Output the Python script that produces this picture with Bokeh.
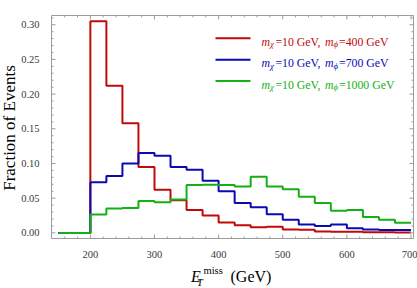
import math
from bokeh.plotting import figure
from bokeh.layouts import column, row
from bokeh.models import Range1d, FixedTicker, Label, BoxAnnotation, NumeralTickFormatter
from bokeh.embed import file_html
from bokeh.resources import INLINE

# ---- data (25 GeV bins, left edges 150 ... 675, last edge 700) ----
bin_edges = [150, 175, 200, 225, 250, 275, 300, 325, 350, 375, 400, 425,
             450, 475, 500, 525, 550, 575, 600, 625, 650, 675, 700]
frac_400 = [0.0, 0.0, 0.305, 0.212, 0.158, 0.095, 0.062, 0.047, 0.033, 0.025, 0.015,
            0.011, 0.008, 0.009, 0.005, 0.0045, 0.002, 0.0017, 0.0017, 0.001, 0.001, 0.0005]
frac_700 = [0.0, 0.0, 0.073, 0.082, 0.100, 0.115, 0.111, 0.095, 0.091, 0.075, 0.060,
            0.043, 0.037, 0.027, 0.019, 0.012, 0.010, 0.012, 0.0066, 0.005, 0.0043, 0.004]
frac_1000 = [0.0, 0.0, 0.0266, 0.035, 0.036, 0.046, 0.044, 0.048, 0.069, 0.0695, 0.069,
             0.067, 0.081, 0.067, 0.063, 0.052, 0.043, 0.032, 0.033, 0.023, 0.019, 0.0147]
mediator_masses = ["400", "700", "1000"]
dm_mass = "10"
series = [frac_400, frac_700, frac_1000]
colors = ["#BE0A0A", "#0A0AB4", "#14B014"]
x_major = [200, 300, 400, 500, 600, 700]
x_minor = [v for v in range(160, 701, 20) if v not in x_major]
y_major = [0.0, 0.05, 0.10, 0.15, 0.20, 0.25, 0.30]
y_minor = [round(0.01 * i, 2) for i in range(0, 32) if i % 5 != 0]

SERIF = "Liberation Serif"
TICK_FONT = "serif"
AX_COL = "#9c9c9c"
LAB_COL = "#3a3a3a"

W, H1, H2 = 417, 260, 28
YS = 18                                        # width of the y-title strip
FL, FR, FT, FB = 49, 413, 15, 240              # frame edges (page px)
XR = (139.4, 703.9)
YR = (-0.0081, 0.3133)

p = figure(width=W - YS, height=H1, output_backend="svg", toolbar_location=None,
           x_range=Range1d(*XR), y_range=Range1d(*YR),
           min_border_left=FL - YS, min_border_right=W - FR, min_border_top=FT,
           min_border_bottom=H1 - FB)
p.grid.visible = False
p.outline_line_color = AX_COL
p.outline_line_width = 1

for vals, col in zip(series, colors):
    p.step(x=bin_edges, y=vals + [vals[-1]], mode="after", line_width=2, line_color=col)

# inward frame ticks, drawn through the data scales
dx = (XR[1] - XR[0]) / (FR - FL)
dy = (YR[1] - YR[0]) / (FB - FT)
for ticks, L in ((x_major, 4), (x_minor, 2)):
    p.segment(x0=ticks, x1=ticks, y0=[YR[0]] * len(ticks), y1=[YR[0] + L * dy] * len(ticks),
              line_color=AX_COL, line_width=1)
    p.segment(x0=ticks, x1=ticks, y0=[YR[1]] * len(ticks), y1=[YR[1] - L * dy] * len(ticks),
              line_color=AX_COL, line_width=1)
for ticks, L in ((y_major, 4), (y_minor, 2)):
    p.segment(y0=ticks, y1=ticks, x0=[XR[0]] * len(ticks), x1=[XR[0] + L * dx] * len(ticks),
              line_color=AX_COL, line_width=1)
    p.segment(y0=ticks, y1=ticks, x0=[XR[1]] * len(ticks), x1=[XR[1] - L * dx] * len(ticks),
              line_color=AX_COL, line_width=1)

for ax in (p.xaxis[0], p.yaxis[0]):
    ax.axis_line_color = None
    ax.major_tick_line_color = None
    ax.minor_tick_line_color = None
    ax.major_label_text_font = TICK_FONT
    ax.major_label_text_font_style = "normal"
    ax.major_label_text_color = LAB_COL
    ax.major_label_text_font_size = "10.5px"
    ax.major_label_standoff = 6
p.xaxis[0].ticker = FixedTicker(ticks=x_major)
p.yaxis[0].ticker = FixedTicker(ticks=y_major)
p.yaxis[0].formatter = NumeralTickFormatter(format="0.00")

def lab(fig, sx, sy, text, size, color="black", italic=False, angle=0.0,
        align="left", baseline="alphabetic"):
    fig.add_layout(Label(x=sx, y=sy, x_units="canvas", y_units="canvas", text=text,
                         text_font=SERIF, text_font_size=f"{size}px", text_color=color,
                         text_font_style="italic" if italic else "normal", angle=angle,
                         text_align=align, text_baseline=baseline))

# legend (inside the frame); canvas x of p = page x - YS
fs = 11.8
sub = 8.8
def eq_width(mass):
    return (0.564 + 0.5 * len(mass) + 0.25 + 1.888) * fs
line_y = [37.7, 59.3, 80.5]
for i, (mass, col) in enumerate(zip(mediator_masses, colors)):
    cy = line_y[i]
    p.add_layout(BoxAnnotation(left=215 - YS, right=250 - YS, top=cy - 1, bottom=cy + 1,
                               left_units="canvas", right_units="canvas",
                               top_units="canvas", bottom_units="canvas",
                               fill_color=col, fill_alpha=1.0, line_color=None))
    bl = cy + 3.6
    x = 261.0 - YS
    lab(p, x, bl, "m", fs, col, italic=True); x += 0.722 * fs
    lab(p, x, bl + 2.5, "χ", sub, col, italic=True); x += 0.56 * sub + 0.5
    lab(p, x, bl, "=" + dm_mass + " GeV, ", fs, col); x += eq_width(dm_mass) + 0.5 * fs
    lab(p, x, bl, "m", fs, col, italic=True); x += 0.722 * fs
    lab(p, x, bl + 2.5, "ϕ", sub, col, italic=True); x += 0.56 * sub + 0.5
    lab(p, x, bl, "=" + mass + " GeV", fs, col)

def strip(w, h):
    f = figure(width=w, height=h, output_backend="svg", toolbar_location=None,
               x_range=Range1d(0, 1), y_range=Range1d(0, 1),
               x_axis_location=None, y_axis_location=None, min_border=0)
    f.grid.visible = False
    f.outline_line_color = None
    return f

# y-axis title strip on the left
ys = strip(YS, H1)
lab(ys, 9, (FT + FB) / 2, "Fraction of Events", 17, angle=math.pi / 2,
    align="center", baseline="middle")

# x-axis title strip below the plot
xt = strip(W, H2)
lab(xt, 190.5, 276 - H1, "E", 16, italic=True)
lab(xt, 196.5, 282 - H1, "T", 10.5, italic=True)
lab(xt, 203, 270 - H1, "miss", 10.5)
lab(xt, 230, 276 - H1, "(GeV)", 16)

layout = column(row(ys, p, spacing=0), xt, spacing=0)
open("out.html", "w").write(file_html(layout, INLINE))
